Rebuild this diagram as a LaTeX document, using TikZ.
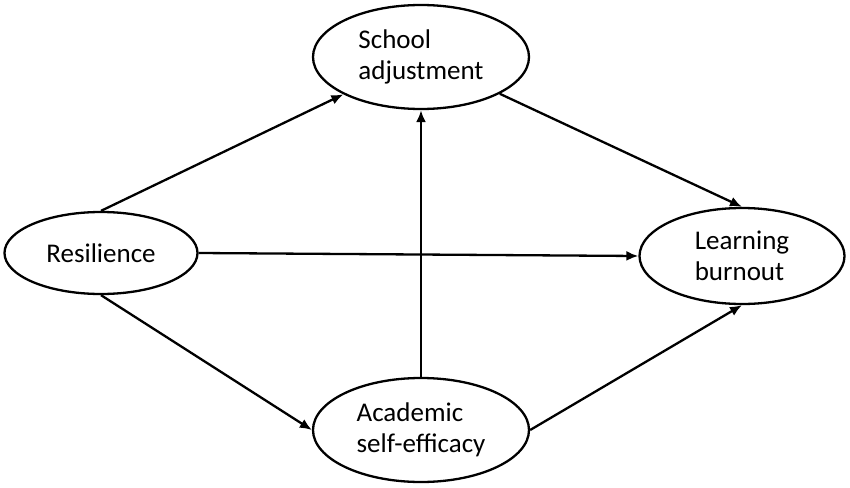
\documentclass[tikz,border=0pt]{standalone}
\usepackage{fontspec}
\setmainfont{Carlito}
\usetikzlibrary{arrows.meta,shapes.geometric}
\begin{document}
\begin{tikzpicture}[x=1pt,y=-1pt,
  construct/.style={ellipse,draw,line width=2.3pt,inner sep=0pt,align=left,
    font=\fontsize{27}{31}\selectfont},
  path/.style={line width=2.3pt,-{Latex[length=12pt,width=10pt]}}]
\useasboundingbox (0,0) rectangle (850,487);
\node[construct,minimum width=216pt,minimum height=104pt] (sch) at (421,57) {School\\adjustment};
\node[construct,minimum width=193pt,minimum height=82pt] (res) at (101,253) {Resilience};
\node[construct,minimum width=205pt,minimum height=96pt] (lb) at (742,256) {Learning\\burnout};
\node[construct,minimum width=216pt,minimum height=104pt] (acad) at (421,430) {Academic\\self-efficacy};
\draw[path] (res.north) -- (sch);
\draw[path] (res.east) -- (lb.west);
\draw[path] (res.south) -- (acad.west);
\draw[path] (acad.north) -- (sch.south);
\draw[path] (sch) -- (lb.north);
\draw[path] (acad.east) -- (lb.south);
\end{tikzpicture}
\end{document}
